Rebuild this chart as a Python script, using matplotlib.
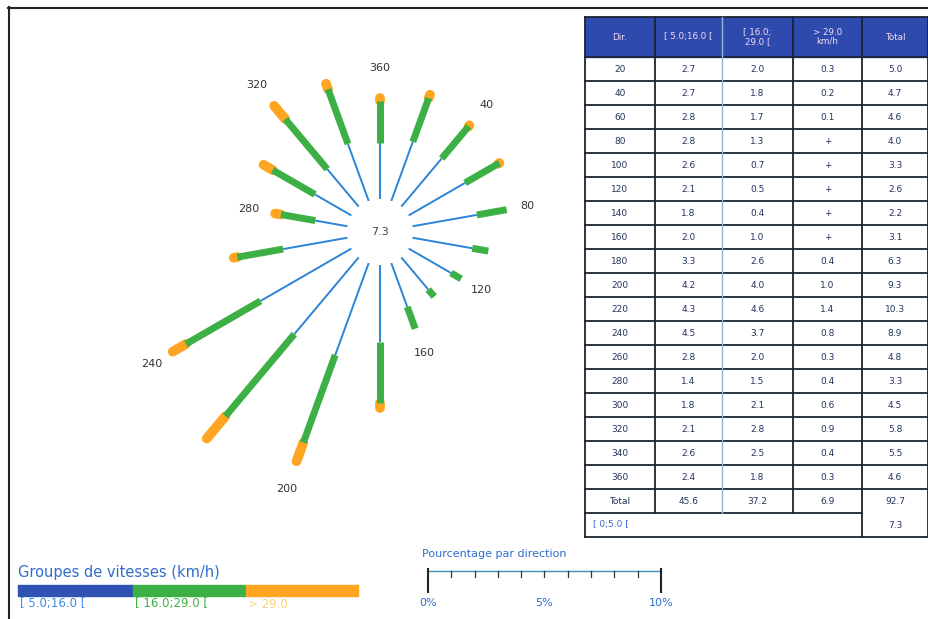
import numpy as np
import matplotlib
matplotlib.use("Agg")
import matplotlib.pyplot as plt
from matplotlib.patches import Rectangle

# wind directions (degrees) and frequency (%) per speed class
directions = [20, 40, 60, 80, 100, 120, 140, 160, 180,
              200, 220, 240, 260, 280, 300, 320, 340, 360]
low = [2.7, 2.7, 2.8, 2.8, 2.6, 2.1, 1.8, 2.0, 3.3,
       4.2, 4.3, 4.5, 2.8, 1.4, 1.8, 2.1, 2.6, 2.4]
mid = [2.0, 1.8, 1.7, 1.3, 0.7, 0.5, 0.4, 1.0, 2.6,
       4.0, 4.6, 3.7, 2.0, 1.5, 2.1, 2.8, 2.5, 1.8]
# None = trace (< 0.05 %)
high = [0.3, 0.2, 0.1, None, None, None, None, None, 0.4,
        1.0, 1.4, 0.8, 0.3, 0.4, 0.6, 0.9, 0.4, 0.3]
totals = [5.0, 4.7, 4.6, 4.0, 3.3, 2.6, 2.2, 3.1, 6.3,
          9.3, 10.3, 8.9, 4.8, 3.3, 4.5, 5.8, 5.5, 4.6]
col_totals = ["45.6", "37.2", "6.9", "92.7"]
calm = 7.3

labelled_dirs = [360, 40, 80, 120, 160, 200, 240, 280, 320]
header = ["Dir.", "[ 5.0;16.0 [", "[ 16.0;\n29.0 [", "> 29.0\nkm/h", "Total"]
class_labels = ["[ 5.0;16.0 [", "[ 16.0;29.0 [", "> 29.0"]
scale_ticks = [0, 5, 10]

BLUE_LINE = "#2b84d6"
BLUE = "#2f52b4"
GREEN = "#3cb044"
ORANGE = "#ffa522"
NAVY = "#22345c"
DARK = "#1b2530"

W, H = 929, 619
PX_PER_PCT = 23.3
RMIN, RMAX = -1.42, 12.0
CX, CY = 380, 232

fig = plt.figure(figsize=(W / 100, H / 100), dpi=100)

# ---- wind rose on a polar axes ----
R = (RMAX - RMIN) * PX_PER_PCT
pax = fig.add_axes([(CX - R) / W, (H - CY - R) / H, 2 * R / W, 2 * R / H],
                   projection="polar")
pax.set_theta_zero_location("N")
pax.set_theta_direction(-1)
pax.set_rlim(RMIN, RMAX)
pax.axis("off")

for d, a, b, c, t in zip(directions, low, mid, high, totals):
    th = np.deg2rad(d)
    pax.plot([th, th], [0, a], color=BLUE_LINE, lw=1.4,
             solid_capstyle="butt", zorder=3)
    pax.plot([th, th], [a, a + b], color=GREEN, lw=5.0,
             solid_capstyle="butt", zorder=4)
    if c is not None:
        pax.plot([th, th], [a + b, a + b + c - 0.15], color=ORANGE, lw=7.0,
                 solid_capstyle="round", zorder=2)
    if d in labelled_dirs:
        pax.text(th, t + 1.0, str(d), ha="center", va="center",
                 fontsize=8, color="#333333")

pax.text(0.5, 0.5, f"{calm:.1f}", transform=pax.transAxes, ha="center",
         va="center", fontsize=8, color="#444444")

# ---- overlay in pixel units: table, legend, scale, frame ----
ax = fig.add_axes([0, 0, 1, 1])
ax.set_xlim(0, W)
ax.set_ylim(H, 0)
ax.axis("off")

# frame
ax.plot([8, W], [7.5, 7.5], color="#222222", lw=1.5)
ax.plot([9.5, 9.5], [7, H], color="#222222", lw=1.5)

# table
cols_x = [585, 655, 722, 793, 862, 928]
top, head_bot, row_h = 17, 57, 24
n = len(directions)
tot_y = head_bot + n * row_h
calm_y = tot_y + row_h
bottom = calm_y + row_h

ax.add_patch(Rectangle((cols_x[0], top), cols_x[-1] - cols_x[0],
                       head_bot - top, color="#2f4aad", zorder=1))
for i, h in enumerate(header):
    xc = (cols_x[i] + cols_x[i + 1]) / 2
    ax.text(xc, (top + head_bot) / 2, h, ha="center", va="center",
            fontsize=6.3, color="#f3dcf3", linespacing=1.0, zorder=2)

for r, (d, a, b, c, t) in enumerate(zip(directions, low, mid, high, totals)):
    yc = head_bot + (r + 0.5) * row_h
    cells = [str(d), f"{a:.1f}", f"{b:.1f}",
             "+" if c is None else f"{c:.1f}", f"{t:.1f}"]
    for i, s in enumerate(cells):
        xc = (cols_x[i] + cols_x[i + 1]) / 2
        ax.text(xc, yc, s, ha="center", va="center", fontsize=6.5,
                color=NAVY)

yc = tot_y + row_h / 2
for i, s in enumerate(["Total"] + col_totals):
    xc = (cols_x[i] + cols_x[i + 1]) / 2
    ax.text(xc, yc, s, ha="center", va="center", fontsize=6.5, color=NAVY)
ax.text(cols_x[0] + 8, calm_y + row_h / 2, "[ 0;5.0 [", ha="left",
        va="center", fontsize=6.5, color="#3a6ad0")
ax.text((cols_x[4] + cols_x[5]) / 2, calm_y + row_h / 2, f"{calm:.1f}",
        ha="center", va="center", fontsize=6.5, color=NAVY)

# table rules
for k in range(n + 1):
    y = head_bot + k * row_h
    ax.plot([cols_x[0], cols_x[-1]], [y, y], color=DARK, lw=1.3)
ax.plot([cols_x[0], cols_x[-1]], [top, top], color=DARK, lw=1.3)
ax.plot([cols_x[0], cols_x[4]], [calm_y, calm_y], color=DARK, lw=1.3)
ax.plot([cols_x[0], cols_x[-1]], [bottom, bottom], color=DARK, lw=1.3)
for i, x in enumerate(cols_x):
    if i in (0, 4, 5):
        ax.plot([x, x], [top, bottom], color=DARK, lw=1.3)
    elif i == 2:
        ax.plot([x, x], [top, calm_y], color="#8db6d8", lw=1.0)
    else:
        ax.plot([x, x], [top, calm_y], color=DARK, lw=1.3)

# speed class legend
ax.text(18, 573, "Groupes de vitesses (km/h)", ha="left", va="center",
        fontsize=10.5, color="#2f6ccc")
seg_x = [18, 133, 246, 358]
seg_colors = [BLUE, GREEN, ORANGE]
lab_colors = ["#3a8ee0", "#3cb044", "#ffd27a"]
for i in range(3):
    ax.add_patch(Rectangle((seg_x[i], 585), seg_x[i + 1] - seg_x[i], 11,
                           color=seg_colors[i]))
    ax.text(seg_x[i] + 2, 604, class_labels[i], ha="left", va="center",
            fontsize=8.5, color=lab_colors[i])

# percentage scale
sx0 = 428
ax.text(422, 554, "Pourcentage par direction", ha="left", va="center",
        fontsize=8, color="#2f6ccc")
ax.plot([sx0, sx0 + 10 * PX_PER_PCT], [571, 571], color="#3f8fb8", lw=1.0)
for p in range(11):
    x = sx0 + p * PX_PER_PCT
    if p in (0, 10):
        ax.plot([x, x], [569, 592], color="#222222", lw=1.5)
    else:
        ax.plot([x, x], [571, 577], color="#333333", lw=0.9)
for p in scale_ticks:
    ax.text(sx0 + p * PX_PER_PCT, 603, f"{p}%", ha="center", va="center",
            fontsize=8, color="#2f6ccc")

fig.savefig("out.png", dpi=100)
